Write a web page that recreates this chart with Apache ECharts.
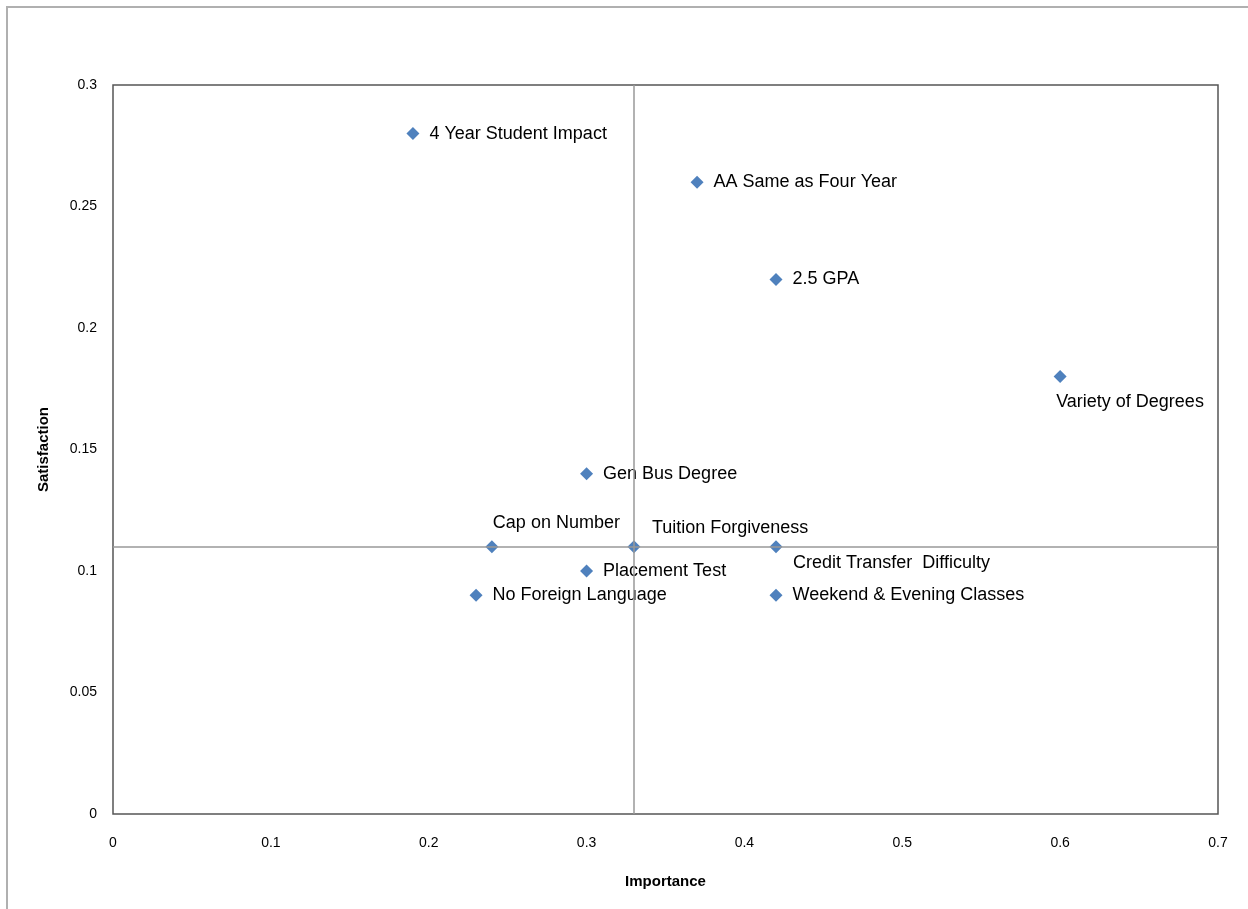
<!DOCTYPE html>
<html><head><meta charset="utf-8">
<script src="https://cdn.jsdelivr.net/npm/echarts@6/dist/echarts.min.js"></script>
<style>html,body{margin:0;padding:0;background:#fff}#c{width:1248px;height:909px}</style>
</head><body><div id="c"></div>
<script>
const names = ["4 Year Student Impact","AA Same as Four Year","2.5 GPA","Variety of Degrees","Gen Bus Degree","Cap on Number","Tuition Forgiveness","Credit Transfer  Difficulty","Placement Test","No Foreign Language","Weekend & Evening Classes"];
const importance = [0.19,0.37,0.42,0.60,0.30,0.24,0.33,0.42,0.30,0.23,0.42];
const satisfaction = [0.28,0.26,0.22,0.18,0.14,0.11,0.11,0.11,0.10,0.09,0.09];
const xTicks = [0,0.1,0.2,0.3,0.4,0.5,0.6,0.7];
const yTicks = [0,0.05,0.1,0.15,0.2,0.25,0.3];
const crossX = 0.33, crossY = 0.11;

const labelPos = {
  "Variety of Degrees": {position:'bottom', align:'left', offset:[-4,0]},
  "Cap on Number": {position:'top', align:'left', offset:[1,2]},
  "Tuition Forgiveness": {position:'top', align:'left', offset:[18,7]},
  "Credit Transfer  Difficulty": {position:'bottom', align:'left', offset:[17,-9]}
};
const data = names.map((n,i)=>{
  const d = {name:n, value:[importance[i], satisfaction[i]]};
  if (labelPos[n]) d.label = Object.assign({show:true}, labelPos[n]);
  return d;
});
const chart = echarts.init(document.getElementById('c'));
chart.setOption({
  animation:false,
  graphic:[{type:'rect', shape:{x:7, y:7, width:1300, height:1000}, style:{fill:'none', stroke:'#b0b0b0', lineWidth:2}}],
  grid:{left:113, right:30, top:85, bottom:95, show:true, borderColor:'#555', borderWidth:1.5, backgroundColor:'transparent'},
  xAxis:{type:'value', min:0, max:0.7, interval:0.1, name:'Importance', nameLocation:'middle', nameGap:60,
    nameTextStyle:{fontFamily:'Liberation Sans', fontWeight:'bold', fontSize:15, color:'#000'},
    axisLine:{show:false}, axisTick:{show:false}, splitLine:{show:false},
    axisLabel:{fontFamily:'Liberation Sans', fontSize:14, color:'#000', margin:22, formatter:v=>String(+v.toFixed(2))}},
  yAxis:{type:'value', min:0, max:0.3, interval:0.05, name:'Satisfaction', nameLocation:'middle', nameGap:62, nameRotate:90,
    nameTextStyle:{fontFamily:'Liberation Sans', fontWeight:'bold', fontSize:15, color:'#000'},
    axisLine:{show:false}, axisTick:{show:false}, splitLine:{show:false},
    axisLabel:{fontFamily:'Liberation Sans', fontSize:14, color:'#000', margin:16, formatter:v=>String(+v.toFixed(2))}},
  series:[{
    type:'scatter', symbol:'diamond', symbolSize:13,
    itemStyle:{color:'#4F81BD', opacity:1},
    label:{show:true, position:'right', distance:10, formatter:p=>p.name, fontFamily:'Liberation Sans', fontSize:18, color:'#000'},
    data:data,
    markLine:{silent:true, symbol:'none', label:{show:false}, lineStyle:{color:'#999', type:'solid', width:1.5},
      data:[{xAxis:crossX},{yAxis:crossY}]},
    z:3
  }]
});
</script></body></html>
